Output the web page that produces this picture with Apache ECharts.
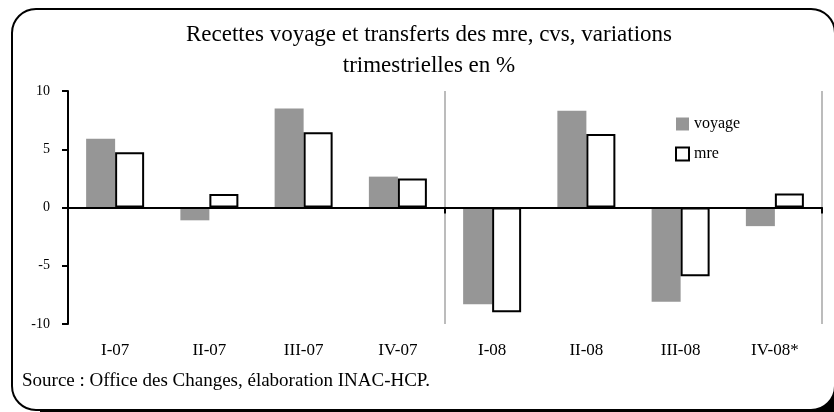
<!DOCTYPE html>
<html>
<head>
<meta charset="utf-8">
<script src="https://cdn.jsdelivr.net/npm/echarts@6/dist/echarts.min.js"></script>
<style>
  html, body { margin: 0; padding: 0; background: #fff; }
  #chart { width: 834px; height: 412px; }
</style>
</head>
<body>
<div id="chart"></div>
<script>
// trimestres
const categories = ["I-07", "II-07", "III-07", "IV-07", "I-08", "II-08", "III-08", "IV-08*"];
// variations trimestrielles en %
const voyage = [5.9, -1.1, 8.5, 2.65, -8.3, 8.3, -8.1, -1.6];
const mre = [4.75, 1.15, 6.45, 2.5, -9.0, 6.3, -5.9, 1.2];
const yTicks = { min: -10, max: 10, interval: 5 };

const serif = "Liberation Serif";
const chart = echarts.init(document.getElementById("chart"));

const option = {
  animation: false,
  backgroundColor: "#fff",
  title: {
    text: "Recettes voyage et transferts des mre, cvs, variations\ntrimestrielles en %",
    left: 424,
    top: 14,
    textAlign: "center",
    textStyle: {
      fontFamily: serif,
      fontSize: 23,
      fontWeight: "normal",
      color: "#000",
      lineHeight: 31,
    },
  },
  legend: {
    orient: "vertical",
    left: 670,
    top: 111,
    itemWidth: 13,
    itemHeight: 13,
    itemGap: 14,
    icon: "rect",
    textStyle: { fontFamily: serif, fontSize: 16, color: "#000" },
    data: ["voyage", "mre"],
  },
  grid: { left: 68, right: 12, top: 91, bottom: 88, containLabel: false },
  xAxis: [
    {
      // axe à zéro : trait, graduations et séparateurs gris
      type: "category",
      data: categories,
      axisLine: { onZero: true, lineStyle: { color: "#000", width: 2 } },
      axisTick: { show: true, interval: 3, length: 6, lineStyle: { color: "#000", width: 2 } },
      axisLabel: { show: false },
      splitLine: { show: true, interval: 3, lineStyle: { color: "#a6a6a6", width: 1.5 } },
      z: 3,
    },
    {
      // étiquettes en bas du graphique
      type: "category",
      data: categories,
      position: "bottom",
      axisLine: { show: false, onZero: false },
      axisTick: { show: false },
      splitLine: { show: false },
      axisLabel: { show: true, interval: 0, margin: 18, fontFamily: serif, fontSize: 17, color: "#000" },
    },
  ],
  yAxis: {
    type: "value",
    min: yTicks.min,
    max: yTicks.max,
    interval: yTicks.interval,
    axisLine: { show: true, lineStyle: { color: "#000", width: 2 } },
    axisTick: { show: true, length: 6, lineStyle: { color: "#000", width: 2 } },
    axisLabel: { margin: 18, fontFamily: serif, fontSize: 14, color: "#000" },
    splitLine: { show: false },
    z: 3,
  },
  series: [
    {
      name: "voyage",
      type: "bar",
      xAxisIndex: 0,
      data: voyage,
      barWidth: 29,
      barGap: "0%",
      itemStyle: { color: "#969696" },
    },
    {
      name: "mre",
      type: "bar",
      xAxisIndex: 0,
      data: mre,
      barWidth: 29,
      itemStyle: { color: "#fff", borderColor: "#000", borderWidth: 2 },
    },
  ],
  graphic: [
    // ombre noire du cadre
    {
      type: "rect",
      z: -11,
      silent: true,
      shape: { x: 40, y: 40, width: 800, height: 380 },
      style: { fill: "#000" },
    },
    {
      type: "rect",
      z: -10,
      silent: true,
      shape: { x: 12, y: 9, width: 823, height: 401, r: 24 },
      style: { fill: "#fff", stroke: "#000", lineWidth: 2 },
    },
    {
      type: "text",
      left: 22,
      top: 372,
      style: {
        text: "Source : Office des Changes, élaboration INAC-HCP.",
        font: "19px " + serif,
        fill: "#000",
      },
    },
  ],
};

chart.setOption(option);
</script>
</body>
</html>
